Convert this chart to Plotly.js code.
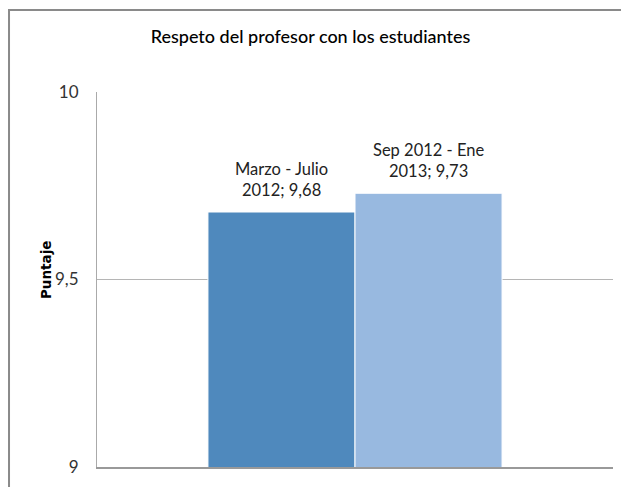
<!DOCTYPE html>
<html>
<head>
<meta charset="utf-8">
<script src="https://cdn.plot.ly/plotly-3.0.1.min.js"></script>
<style>html,body{margin:0;padding:0;background:#fff;}#chart{width:621px;height:487px;}</style>
</head>
<body>
<div id="chart"></div>
<script>
var seriesNames = ["Marzo - Julio<br>2012", "Sep 2012 - Ene<br>2013"];
var seriesValues = [9.68, 9.73];
var seriesLabels = ["9,68", "9,73"];
var seriesColors = ["#4F89BD", "#98B9E0"];
var category = [""];
var tickVals = [9, 9.5, 10];
var tickText = ["9", "9,5", "10"];

var FONT = "Lato, Carlito, Calibri, Noto Sans, sans-serif";
var BARGAP = 0.43;

var traces = seriesNames.map(function (name, i) {
  return {
    type: "bar",
    name: name,
    x: category,
    y: [seriesValues[i]],
    marker: {color: seriesColors[i], line: {color: "#ffffff", width: 1}},
    hoverinfo: "skip"
  };
});

// data labels above each bar of the group (positions derived from the bar layout)
var groupWidth = 1 - BARGAP;
var n = seriesNames.length;
var annotations = seriesNames.map(function (name, i) {
  return {
    xref: "x", yref: "y",
    x: -groupWidth / 2 + groupWidth / n * (i + 0.5),
    y: seriesValues[i],
    text: name + "; " + seriesLabels[i],
    showarrow: false, xanchor: "center", yanchor: "bottom", yshift: 10,
    font: {family: FONT, size: 16.5, color: "#222"}
  };
});
annotations.push({
  xref: "paper", yref: "paper", x: -0.099, y: 0.525, xanchor: "center", yanchor: "middle",
  text: "<b>Puntaje</b>", textangle: -90, showarrow: false,
  font: {family: "DejaVu Sans, Noto Sans, sans-serif", size: 13.5, color: "#000"}
});

var layout = {
  width: 621, height: 487,
  margin: {l: 97, r: 8, t: 92, b: 20, pad: 0},
  paper_bgcolor: "#fff", plot_bgcolor: "#fff",
  showlegend: false,
  barmode: "group",
  bargap: BARGAP,
  bargroupgap: 0,
  title: {text: "Respeto del profesor con los estudiantes", x: 0.5, xanchor: "center", y: 0.925, yanchor: "middle",
          font: {family: FONT, size: 18, color: "#000", weight: 500}},
  xaxis: {showticklabels: false, ticks: "", showgrid: false, zeroline: false,
          showline: true, linecolor: "#999", linewidth: 2, range: [-0.5, 0.5]},
  yaxis: {range: [9, 10], tickvals: tickVals, ticktext: tickText, ticks: "",
          showgrid: true, gridcolor: "#b5b5b5", gridwidth: 1, zeroline: false,
          showline: true, linecolor: "#aaa", linewidth: 1,
          tickfont: {family: FONT, size: 17, color: "#333"}, ticklabelstandoff: 14},
  annotations: annotations,
  shapes: [{type: "rect", xref: "paper", yref: "paper", x0: -0.1705, x1: 1.2, y0: -0.3, y1: 1.2187,
            line: {color: "#8a8a8a", width: 2}, fillcolor: "rgba(0,0,0,0)", layer: "above"}]
};

Plotly.newPlot("chart", traces, layout, {displayModeBar: false, staticPlot: true});
</script>
</body>
</html>
